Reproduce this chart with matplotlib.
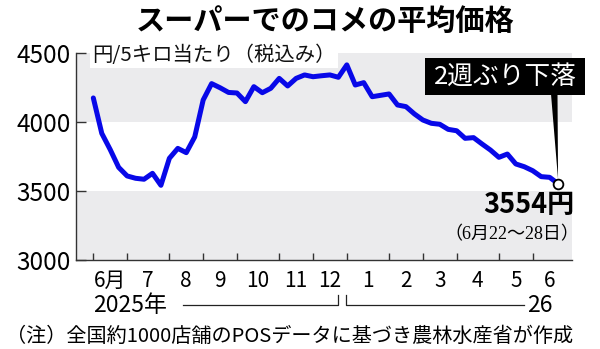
import numpy as np
import matplotlib
matplotlib.use('Agg')
import matplotlib.pyplot as plt
from matplotlib.patches import Rectangle, Polygon
from matplotlib.lines import Line2D
import matplotlib.transforms as mtransforms

plt.rcParams['font.family'] = ['Noto Sans CJK JP', 'DejaVu Sans']

# weekly average price, yen per 5kg (2025 early June -> 2026 June 22-28)
prices = [4176, 3919, 3801, 3672, 3610, 3593, 3586, 3629, 3542, 3738,
          3810, 3779, 3893, 4161, 4280, 4250, 4216, 4212, 4149, 4258,
          4214, 4246, 4318, 4263, 4318, 4343, 4330, 4337, 4343, 4326,
          4416, 4270, 4287, 4185, 4195, 4205, 4125, 4113, 4060, 4016,
          3992, 3985, 3948, 3938, 3883, 3888, 3842, 3798, 3745, 3769,
          3697, 3677, 3648, 3605, 3600, 3554]
weeks = np.arange(len(prices))

# week index where each month starts
month_start = [0, 4, 9, 13, 17, 22, 26, 30, 35, 39, 43, 48, 52, 56]
month_labels = ['6月', '7', '8', '9', '10', '11', '12', '1', '2', '3', '4', '5', '6']
yticks = [3000, 3500, 4000, 4500]

W, H = 600, 349
fig = plt.figure(figsize=(6, 3.49), dpi=100)

def fx(px):
    return px / W

def fy(py):
    return 1 - py / H

ax = fig.add_axes([fx(76), fy(260), fx(572) - fx(76), fy(53.3) - fy(260)])
ax.set_xlim(-2.05, 56.65)
ax.set_ylim(3000, 4500)

ax.axhspan(4000, 4500, color='#ebebed', lw=0, zorder=0)
ax.axhspan(3000, 3500, color='#ebebed', lw=0, zorder=0)

ax.plot(weeks, prices, color='#0808e8', lw=3.6, solid_joinstyle='round',
        solid_capstyle='round', zorder=3)
ax.plot(weeks[-1], prices[-1], 'o', ms=7, mfc='white', mec='black', mew=1.3,
        zorder=5)

for s in ['top', 'right']:
    ax.spines[s].set_visible(False)
for s in ['left', 'bottom']:
    ax.spines[s].set_color('#333333')
    ax.spines[s].set_linewidth(1.0)

ax.set_yticks(yticks)
ax.set_yticklabels([str(v) for v in yticks], fontsize=17.5)
ax.tick_params(axis='y', direction='in', length=7.5, width=1.0, color='#333333', pad=4)

ax.set_xticks(month_start[:-1])
ax.set_xticklabels([])
mids = [(a + b) / 2 for a, b in zip(month_start[:-1], month_start[1:])]
ax.set_xticks(mids, minor=True)
ax.set_xticklabels(month_labels, minor=True, fontsize=15)
ax.tick_params(axis='x', which='major', direction='in', length=5, width=1.0, color='#333333')
ax.tick_params(axis='x', which='minor', length=0, pad=7)

# unit label
ax.text(fx(92), fy(55), '円/5キロ当たり（税込み）', transform=fig.transFigure,
        fontsize=14.7, ha='left', va='center', color='#111111',
        bbox=dict(facecolor='white', edgecolor='none', pad=1.5), zorder=6)

# title
fig.text(fx(325), fy(21), 'スーパーでのコメの平均価格', fontsize=21,
         fontweight='bold', ha='center', va='center')

# year row
bt = mtransforms.blended_transform_factory(ax.transData, fig.transFigure)
ax.text(0, fy(305), '2025年', transform=bt, fontsize=16.5, ha='left', va='center')
ax.text(54.4, fy(305), '26', transform=bt, fontsize=16.5, ha='right', va='center')
lc = '#222222'
ax.add_line(Line2D([10.6, 28.95, 28.95], [fy(305), fy(305), fy(295)], transform=bt,
                   color=lc, lw=0.9, clip_on=False))
ax.add_line(Line2D([29.95, 29.95, 51.0], [fy(295), fy(305), fy(305)], transform=bt,
                   color=lc, lw=0.9, clip_on=False))

# callout box
fig.patches.append(Rectangle((fx(425), fy(95)), fx(585) - fx(425), fy(58.3) - fy(95),
                             transform=fig.transFigure, facecolor='black',
                             edgecolor='none', zorder=6))
fig.text(fx(505), fy(77), '2週ぶり下落', color='white', fontsize=18.5,
         ha='center', va='center', zorder=7)
fig.canvas.draw()
tip = ax.transData.transform((weeks[-1], prices[-1]))
tip = fig.transFigure.inverted().transform(tip)
fig.patches.append(Polygon([(fx(551), fy(94)), (fx(557.5), fy(94)), (tip[0], tip[1] + 0.012)],
                           closed=True, transform=fig.transFigure,
                           facecolor='black', edgecolor='none', zorder=6))

fig.text(fx(529), fy(205), '3554円', fontsize=19.5, fontweight='bold',
         ha='center', va='center')
fig.text(fx(512), fy(235), '（6月22～28日）', fontsize=13, ha='center', va='center',
         family=['Liberation Serif', 'Noto Sans CJK JP'])

fig.text(fx(6), fy(336), '（注）全国約1000店舗のPOSデータに基づき農林水産省が作成',
         fontsize=14.5, ha='left', va='center')

fig.savefig('out.png', dpi=100)
